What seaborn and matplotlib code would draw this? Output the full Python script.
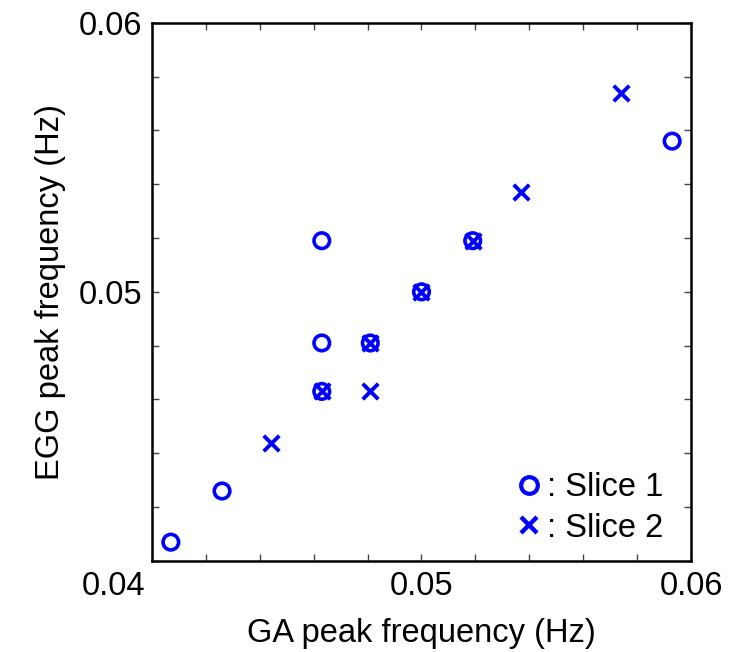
import matplotlib
matplotlib.use("Agg")
import matplotlib.pyplot as plt
import matplotlib.transforms as mtransforms
from matplotlib.lines import Line2D
import seaborn as sns
import pandas as pd
import numpy as np

# Data (Hz)
slice1_ga = [0.0407, 0.0426, 0.0463, 0.0463, 0.0481, 0.0463, 0.0500, 0.0519, 0.0593]
slice1_egg = [0.0407, 0.0426, 0.0463, 0.0481, 0.0481, 0.0519, 0.0500, 0.0519, 0.0556]
slice2_ga = [0.0444, 0.0463, 0.0481, 0.0481, 0.0500, 0.0519, 0.0537, 0.0574]
slice2_egg = [0.0444, 0.0463, 0.0463, 0.0481, 0.0500, 0.0519, 0.0537, 0.0574]

major_ticks = [0.04, 0.05, 0.06]
tick_labels = ["0.04", "0.05", "0.06"]

sns.set_style("ticks")
plt.rcParams['font.family'] = ['Liberation Sans', 'DejaVu Sans']
plt.rcParams['text.color'] = 'black'
plt.rcParams['axes.labelcolor'] = 'black'
plt.rcParams['xtick.color'] = 'black'
plt.rcParams['ytick.color'] = 'black'

FS = 23.5

fig = plt.figure(figsize=(7.49, 6.52), dpi=100)
ax = fig.add_axes([0.2029, 0.1396, 0.7197, 0.8256])

df1 = pd.DataFrame({"ga": slice1_ga, "egg": slice1_egg})
df2 = pd.DataFrame({"ga": slice2_ga, "egg": slice2_egg})

sns.scatterplot(data=df1, x="ga", y="egg", ax=ax, marker="o", s=125,
                facecolors="none", edgecolor="#0000ff", linewidth=2.6)
sns.scatterplot(data=df2, x="ga", y="egg", ax=ax, marker="x", s=125,
                color="#0000ff", linewidth=2.8)

ax.set_xlim(0.04, 0.06)
ax.set_ylim(0.04, 0.06)
ax.set_xticks(major_ticks)
ax.set_xticklabels(tick_labels)
ax.set_yticks(major_ticks[1:])
ax.set_yticklabels(tick_labels[1:])
ax.set_xticks(np.arange(0.04, 0.0601, 0.002), minor=True)
ax.set_yticks(np.arange(0.04, 0.0601, 0.002), minor=True)

for s in ax.spines.values():
    s.set_visible(True)
    s.set_linewidth(1.8)
    s.set_color("black")

ax.tick_params(which="both", direction="in", top=True, right=True,
               length=5, width=1, color="#444444", labelcolor="black")
ax.tick_params(which="major", labelsize=FS, pad=7)

# first x label placed to the left of the corner
lbl0 = ax.get_xticklabels()[0]
lbl0.set_ha("right")
lbl0.set_transform(lbl0.get_transform() +
                   mtransforms.ScaledTranslation(-7 / 100, 0, fig.dpi_scale_trans))

ax.set_xlabel("GA peak frequency (Hz)", fontsize=FS, labelpad=12)
ax.set_ylabel("EGG peak frequency (Hz)", fontsize=FS, labelpad=9)

h1 = Line2D([], [], linestyle="none", marker="o", markersize=12,
            markerfacecolor="none", markeredgecolor="#0000ff", markeredgewidth=3)
h2 = Line2D([], [], linestyle="none", marker="x", markersize=12,
            markeredgecolor="#0000ff", markeredgewidth=3.2)
ax.legend([h1, h2], [": Slice 1", ": Slice 2"], loc="lower right",
          frameon=False, fontsize=FS, handletextpad=0.04, handlelength=1.0,
          labelspacing=0.3, borderpad=0.0, borderaxespad=0.0,
          bbox_to_anchor=(0.948, 0.032))

fig.savefig("out.png", dpi=100)
